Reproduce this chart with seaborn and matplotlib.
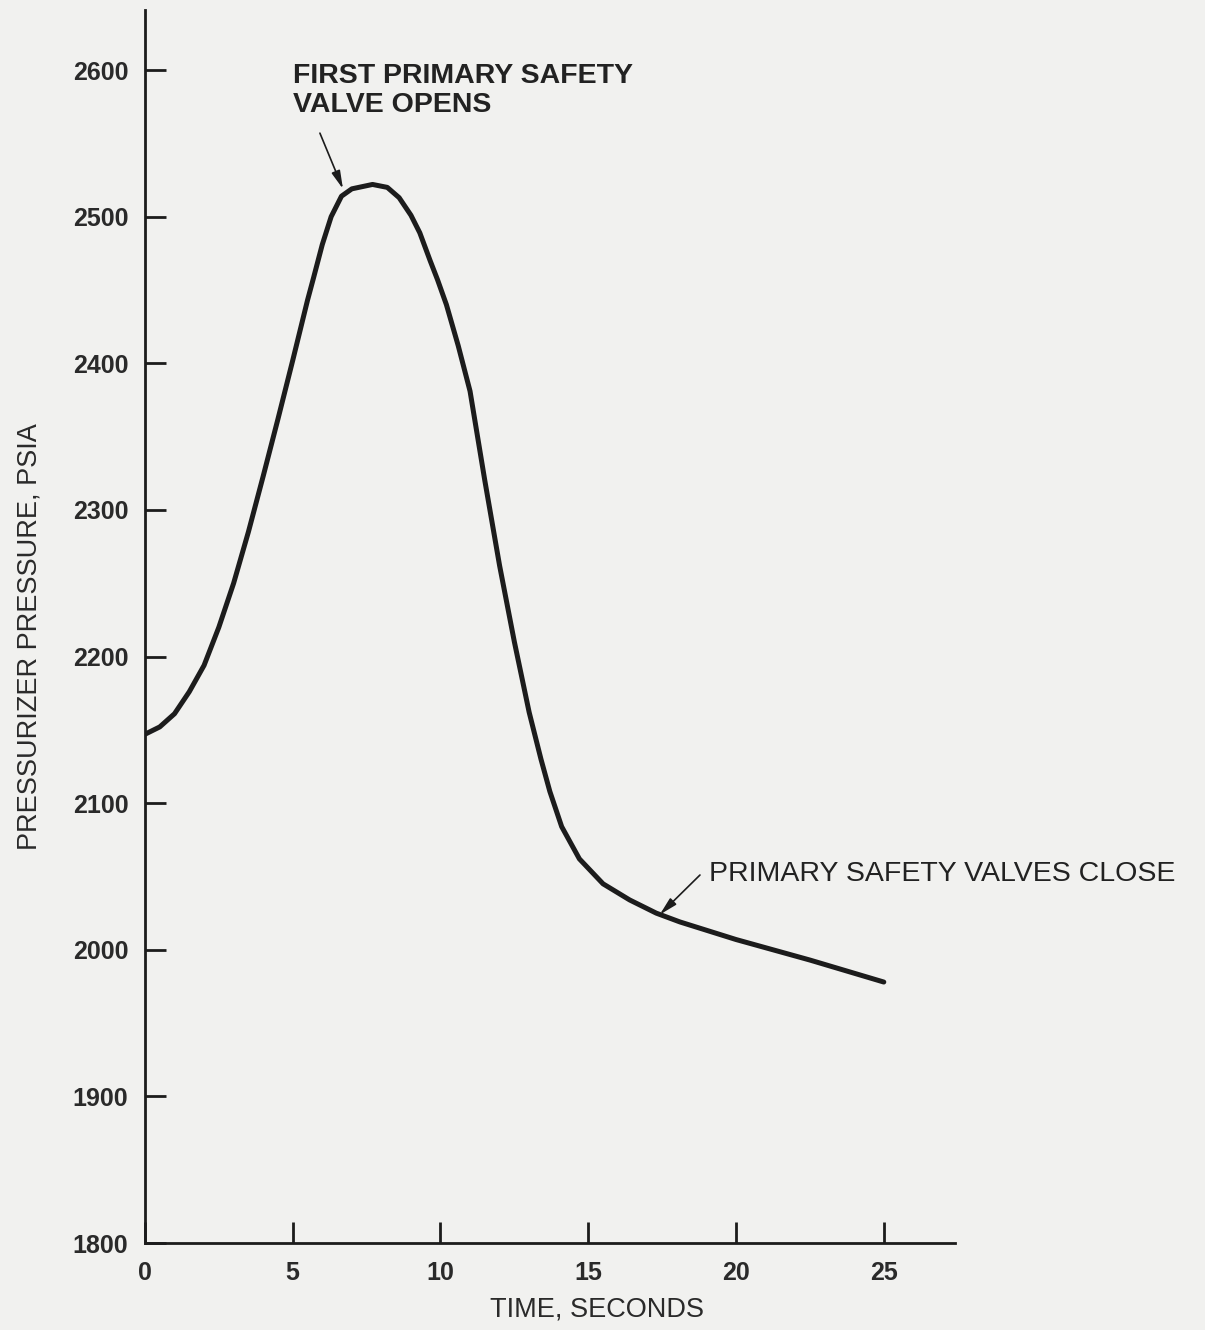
import matplotlib
matplotlib.use("Agg")
import matplotlib.pyplot as plt
import seaborn as sns

# Pressurizer pressure transient
time_s = [0.0, 0.5, 1.0, 1.5, 2.0, 2.5, 3.0, 3.5, 4.0, 4.5, 5.0, 5.5, 5.7,
          6.0, 6.3, 6.65, 7.0, 7.7, 8.2, 8.6, 9.0, 9.3, 9.65, 9.9, 10.2,
          10.6, 11.0, 11.5, 12.0, 12.5, 13.0, 13.4, 13.7, 14.1, 14.7, 15.5,
          16.4, 17.3, 18.1, 20.0, 22.5, 25.0]
pressure_psia = [2147, 2152, 2161, 2176, 2194, 2220, 2250, 2285, 2323, 2362,
                 2402, 2443, 2458, 2481, 2500, 2514, 2519, 2522, 2520, 2513,
                 2501, 2489, 2470, 2457, 2440, 2412, 2381, 2320, 2262, 2210,
                 2162, 2130, 2108, 2084, 2062, 2045, 2034, 2025, 2019, 2007,
                 1993, 1978]

x_ticks = [0, 5, 10, 15, 20, 25]
y_ticks = [1800, 1900, 2000, 2100, 2200, 2300, 2400, 2500, 2600]

note_open = "FIRST PRIMARY SAFETY\nVALVE OPENS"
note_close = "PRIMARY SAFETY VALVES CLOSE"

BG = "#f1f1ef"
INK = "#1c1c1c"

sns.set_theme(style="white")
plt.rcParams["font.family"] = ["Liberation Sans", "DejaVu Sans"]

fig = plt.figure(figsize=(12.05, 13.3), dpi=100, facecolor=BG)
ax = fig.add_axes([0.1203, 0.0654, 0.672, 0.9271])
ax.set_facecolor(BG)

sns.lineplot(x=time_s, y=pressure_psia, ax=ax, color=INK, lw=3.6,
             solid_capstyle="round", solid_joinstyle="round")

ax.set_xlim(0, 27.4)
ax.set_ylim(1800, 2641)
ax.set_xticks(x_ticks)
ax.set_yticks(y_ticks)
ax.tick_params(left=True, bottom=True, direction="in", length=15, width=2.0,
               color=INK, labelsize=18, labelcolor="#2a2a2a")
ax.tick_params(axis="y", pad=12)
ax.tick_params(axis="x", pad=13)
for lbl in ax.get_xticklabels() + ax.get_yticklabels():
    lbl.set_fontweight("bold")

for side in ["top", "right"]:
    ax.spines[side].set_visible(False)
for side in ["left", "bottom"]:
    ax.spines[side].set_color(INK)
    ax.spines[side].set_linewidth(2.0)

ax.set_xlabel("TIME, SECONDS", fontsize=19.5, color="#2a2a2a", va="center")
ax.set_ylabel("PRESSURIZER PRESSURE, PSIA", fontsize=19.5, color="#2a2a2a",
              va="center")
ax.xaxis.set_label_coords(0.558, -0.054)
ax.yaxis.set_label_coords(-0.142, 0.4915)

# annotations
arrow = dict(arrowstyle="-|>,head_length=0.9,head_width=0.22", color=INK,
             lw=1.2, shrinkA=0, shrinkB=0)
ax.text(5.0, 2586, note_open, fontsize=20.5, fontweight="bold", color="#222222",
        ha="left", va="center", linespacing=1.15)
ax.annotate("", xy=(6.7, 2519), xytext=(5.92, 2557), arrowprops=arrow)

ax.text(19.1, 2052, note_close, fontsize=20.5, color="#222222",
        ha="left", va="center")
ax.annotate("", xy=(17.42, 2024), xytext=(18.78, 2051), arrowprops=arrow)

fig.savefig("out.png", dpi=100, facecolor=BG)
